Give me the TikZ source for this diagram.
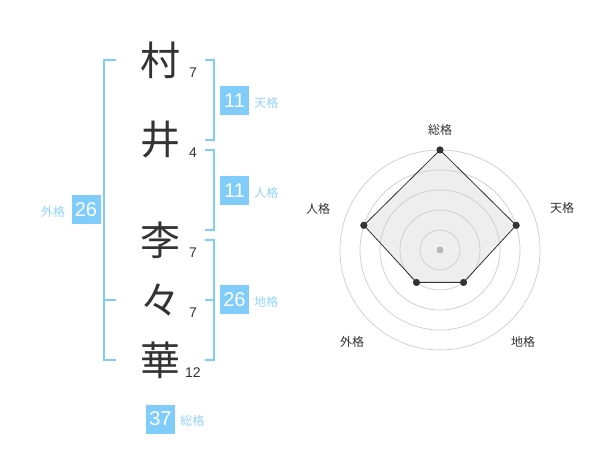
\documentclass[tikz,border=0pt]{standalone}
\usepackage{fontspec}
\setmainfont{Liberation Sans}
\newfontfamily\jpfont{Noto Sans CJK JP}
\usetikzlibrary{positioning}
\definecolor{kakublue}{RGB}{128, 204, 250}
\definecolor{inkgray}{RGB}{51, 51, 51}
\definecolor{ringgray}{RGB}{204, 204, 204}
\definecolor{areagray}{RGB}{238, 238, 238}

\begin{document}
\begin{tikzpicture}[x=1pt, y=-1pt,
                kanji/.style={text=inkgray, inner sep=0pt, font=\jpfont\fontsize{40}{40}\selectfont},
                strokes/.style={text=inkgray, inner sep=0pt, font=\fontsize{14}{14}\selectfont},
                score/.style={rectangle, fill=kakublue, text=white, minimum size=29pt, inner sep=0pt, font=\fontsize{20}{20}\selectfont},
                kaku/.style={text=kakublue!85, inner sep=0pt, font=\jpfont\fontsize{12}{12}\selectfont},
                bracket/.style={draw=kakublue, line width=2pt},
                axislabel/.style={text=inkgray, inner sep=0pt, font=\jpfont\fontsize{12}{12}\selectfont},
                ring/.style={draw=ringgray, line width=0.7pt},
                dot/.style={circle, fill=inkgray, minimum size=7pt, inner sep=0pt}
            ]
                \useasboundingbox (0,0) rectangle (600,470);

                \node[kanji] (c1) at (160,60) {村};
                \node[kanji] (c2) at (160,140) {井};
                \node[kanji] (c3) at (160,240) {李};
                \node[kanji] (c4) at (160,300) {々};
                \node[kanji] (c5) at (160,360) {華};
                \node[strokes] (s1) at (193,73) {7};
                \node[strokes] (s2) at (193,153) {4};
                \node[strokes] (s3) at (193,253) {7};
                \node[strokes] (s4) at (193,313) {7};
                \node[strokes] (s5) at (193,373) {12};

                \draw[bracket] (116,60) -- (104,60) -- (104,360) -- (116,360);
                \draw[bracket] (104,300) -- (116,300);
                \draw[bracket] (205,60) -- (214,60) -- (214,140) -- (205,140);
                \draw[bracket] (205,150) -- (214,150) -- (214,230) -- (205,230);
                \draw[bracket] (205,240) -- (214,240) -- (214,360) -- (205,360);
                \draw[bracket] (205,300) -- (214,300);

                \node[score] (ten) at (234.5,100.5) {11};
                \node[kaku, right=5pt of ten, yshift=-2pt] {天格};
                \node[score] (jin) at (234.5,190.5) {11};
                \node[kaku, right=5pt of jin, yshift=-2pt] {人格};
                \node[score] (chi) at (234.5,300) {26};
                \node[kaku, right=5pt of chi, yshift=-2pt] {地格};
                \node[score] (gai) at (86,210) {26};
                \node[kaku, left=6pt of gai, yshift=-2pt] {外格};
                \node[score] (sou) at (160.5,419) {37};
                \node[kaku, right=5pt of sou, yshift=-2pt] {総格};

                \coordinate (cen) at (440,250);
                \node[dot] (p1) at (440,150) {};
                \node[dot] (p2) at (516.1,225.3) {};
                \node[dot] (p3) at (463.5,282.4) {};
                \node[dot] (p4) at (416.5,282.4) {};
                \node[dot] (p5) at (363.9,225.3) {};

                \fill[areagray] (p1.center) -- (p2.center) -- (p3.center) -- (p4.center) -- (p5.center) -- cycle;
                \foreach \r in {20,40,60,80,100}
                    \draw[ring] (cen) circle[radius=\r];
                \fill[ringgray!90!black] (cen) circle[radius=3.5];
                \draw[inkgray, line width=0.8pt] (p1.center) -- (p2.center) -- (p3.center) -- (p4.center) -- (p5.center) -- cycle;
                \node[dot] at (p1) {};
                \node[dot] at (p2) {};
                \node[dot] at (p3) {};
                \node[dot] at (p4) {};
                \node[dot] at (p5) {};

                \node[axislabel] (l1) at (440,130) {総格};
                \node[axislabel] (l2) at (562,208) {天格};
                \node[axislabel] (l3) at (523,342) {地格};
                \node[axislabel] (l4) at (352,342) {外格};
                \node[axislabel] (l5) at (318,209) {人格};
            \end{tikzpicture}
\end{document}
